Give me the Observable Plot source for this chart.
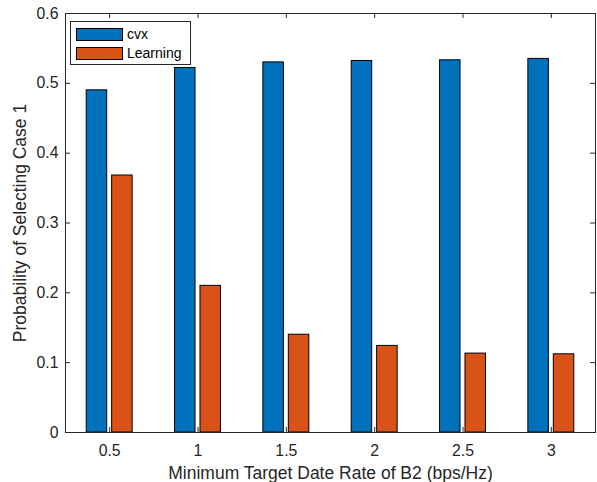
<!DOCTYPE html>
<html>
<head>
<meta charset="utf-8">
<script src="https://cdn.jsdelivr.net/npm/d3@7"></script>
<script src="https://cdn.jsdelivr.net/npm/@observablehq/plot@0.6"></script>
<style>
  html, body { margin: 0; padding: 0; background: #fff; }
  #wrap { position: relative; width: 597px; height: 482px; font-family: "Liberation Sans", Arial, Helvetica, sans-serif; }
  #legend { position: absolute; left: 70px; top: 21px; width: 119px; height: 42px; border: 1px solid #262626; background: #fff; }
  .item { position: absolute; left: 5px; height: 14px; display: flex; align-items: center; }
  .sw { width: 47px; height: 13px; border: 1px solid #000; box-sizing: border-box; }
  .lab { margin-left: 4px; font-size: 14px; color: #000; line-height: 14px; }
</style>
</head>
<body>
<div id="wrap"></div>
<script>
const rates = [0.5, 1, 1.5, 2, 2.5, 3];
const cvx = [0.490, 0.522, 0.530, 0.532, 0.533, 0.535];
const learning = [0.368, 0.210, 0.140, 0.124, 0.113, 0.112];
const seriesNames = ["cvx", "Learning"];
const seriesColors = ["#0072BD", "#D95319"];
const xTicks = [0.5, 1, 1.5, 2, 2.5, 3];
const yTicks = [0, 0.1, 0.2, 0.3, 0.4, 0.5, 0.6];
const xLabel = "Minimum Target Date Rate of B2 (bps/Hz)";
const yLabel = "Probability of Selecting Case 1";

const W = 597, H = 482;
const mL = 65, mR = 2, mT = 13, mB = 50;
const pw = W - mL - mR, ph = H - mT - mB;
const barW = 0.116, off = 0.072, tk = 5;
const axisColor = "#262626";

const data = [];
rates.forEach((r, i) => {
  data.push({rate: r, series: seriesNames[0], value: cvx[i], shift: -off});
  data.push({rate: r, series: seriesNames[1], value: learning[i], shift: off});
});

const plot = Plot.plot({
  width: W, height: H,
  marginLeft: mL, marginRight: mR, marginTop: mT, marginBottom: mB,
  style: {fontFamily: '"Liberation Sans", Arial, Helvetica, sans-serif', fontSize: "15.8px", color: axisColor, background: "transparent", overflow: "visible"},
  x: {type: "linear", domain: [0.25, 3.25]},
  y: {domain: [0, 0.6]},
  color: {domain: seriesNames, range: seriesColors},
  marks: [
    Plot.rect(data, {
      x1: d => d.rate + d.shift - barW / 2,
      x2: d => d.rate + d.shift + barW / 2,
      y1: 0, y2: "value",
      fill: "series", stroke: "#000", strokeWidth: 1
    }),
    Plot.frame({stroke: axisColor, strokeWidth: 1}),
    Plot.tickX(xTicks, {x: d => d, insetTop: ph - tk, stroke: axisColor}),
    Plot.tickX(xTicks, {x: d => d, insetBottom: ph - tk, stroke: axisColor}),
    Plot.tickY(yTicks, {y: d => d, insetRight: pw - tk, stroke: axisColor}),
    Plot.tickY(yTicks, {y: d => d, insetLeft: pw - tk, stroke: axisColor}),
    Plot.axisX({ticks: xTicks, tickSize: 0, tickPadding: 12, label: null, tickFormat: d => String(d), fill: axisColor}),
    Plot.axisY({ticks: yTicks, tickSize: 0, tickPadding: 7, label: null, tickFormat: d => String(d), fill: axisColor}),
    Plot.text([xLabel], {text: d => d, frameAnchor: "bottom", textAnchor: "middle", lineAnchor: "middle", dy: 41, fontSize: 17.5, fill: axisColor}),
    Plot.text([yLabel], {text: d => d, frameAnchor: "left", textAnchor: "middle", lineAnchor: "middle", dx: -45, rotate: -90, fontSize: 17.5, fill: axisColor})
  ]
});

const wrap = document.getElementById("wrap");
wrap.appendChild(plot);

const legend = document.createElement("div");
legend.id = "legend";
seriesNames.forEach((name, i) => {
  const item = document.createElement("div");
  item.className = "item";
  item.style.top = (5 + i * 19) + "px";
  const sw = document.createElement("div");
  sw.className = "sw";
  sw.style.background = seriesColors[i];
  const lab = document.createElement("span");
  lab.className = "lab";
  lab.textContent = name;
  item.appendChild(sw);
  item.appendChild(lab);
  legend.appendChild(item);
});
wrap.appendChild(legend);
</script>
</body>
</html>
